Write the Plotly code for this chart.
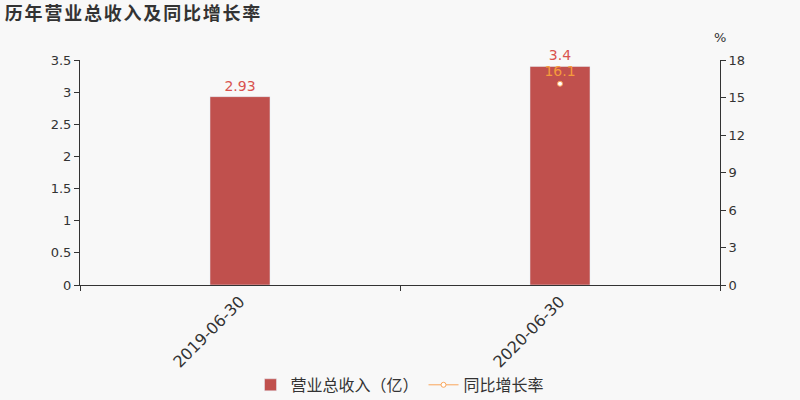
import plotly.graph_objects as go

dates = ["2019-06-30", "2020-06-30"]
revenue = [2.93, 3.4]
growth = [None, 16.1]
title = "历年营业总收入及同比增长率"

FONT = "DejaVu Sans, Noto Sans CJK SC, sans-serif"
BAR_COLOR = "#c0504d"
LINE_COLOR = "#f9a65a"

fig = go.Figure()
fig.add_trace(go.Bar(
    x=dates,
    y=revenue,
    name="营业总收入（亿）",
    marker_color=BAR_COLOR,
    width=0.1875,
    text=[f"{v:g}" for v in revenue],
    textposition="outside",
    textfont=dict(color="#d9534f", size=14),
    cliponaxis=False,
))
fig.add_trace(go.Scatter(
    x=dates,
    y=growth,
    name="同比增长率",
    yaxis="y2",
    mode="lines+markers+text",
    line=dict(color=LINE_COLOR, width=1),
    marker=dict(color="white", size=5, line=dict(color=LINE_COLOR, width=1)),
    text=[None if g is None else f"{g:g}" for g in growth],
    textposition="top center",
    textfont=dict(color="#f59c3c", size=14),
    cliponaxis=False,
))

fig.update_layout(
    width=800,
    height=400,
    paper_bgcolor="#f8f8f8",
    plot_bgcolor="#f8f8f8",
    font=dict(family=FONT, color="#333", size=13),
    margin=dict(l=80, r=80, t=60, b=115, autoexpand=False),
    title=dict(
        # hair spaces to widen the letter spacing like the original
        text="<b>" + "\u200a".join(title) + "</b>",
        x=0.006, xanchor="left", y=0.967, yanchor="middle",
        font=dict(size=18, color="#333"),
    ),
    xaxis=dict(
        type="category",
        automargin=False,
        showline=True, linecolor="#333", linewidth=1,
        ticks="outside", tickson="boundaries", ticklen=5, tickcolor="#333",
        tickangle=-45, tickfont=dict(size=16, color="#333"),
        showgrid=False,
    ),
    yaxis=dict(
        range=[0, 3.5], dtick=0.5, automargin=False,
        showline=True, linecolor="#333", linewidth=1,
        ticks="outside", ticklen=5, tickcolor="#333",
        showgrid=False, zeroline=False,
    ),
    yaxis2=dict(
        range=[0, 18], dtick=3, overlaying="y", side="right", automargin=False,
        showline=True, linecolor="#333", linewidth=1,
        ticks="outside", ticklen=5, tickcolor="#333",
        showgrid=False, zeroline=False,
    ),
    legend=dict(
        orientation="h", x=0.5, xanchor="center", y=-0.444, yanchor="middle",
        font=dict(size=16, color="#333"),
    ),
    showlegend=True,
    annotations=[dict(
        text="%", x=1, xref="paper", y=1.098, yref="paper",
        xanchor="center", yanchor="middle",
        showarrow=False, font=dict(size=13, color="#333"),
    )],
)

fig.write_html(
    "out.html",
    config={"displayModeBar": False},
    post_script="document.body.style.margin='0';",
)
